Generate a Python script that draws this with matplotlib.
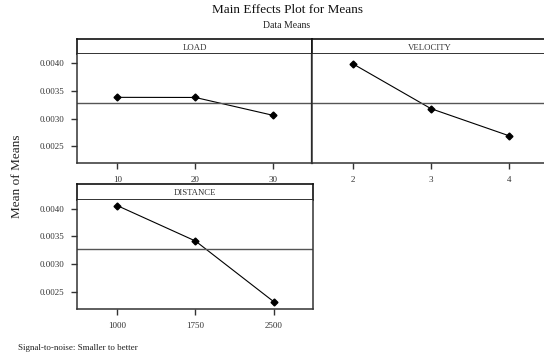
import numpy as np
from matplotlib import pyplot as plt

plt.rcParams['font.family'] = ['Liberation Serif', 'DejaVu Serif']

# factor levels and mean of means at each level
load_levels = ['10', '20', '30']
load_means = [0.003384, 0.003382, 0.003058]

velocity_levels = ['2', '3', '4']
velocity_means = [0.00399, 0.00318, 0.00269]

distance_levels = ['1000', '1750', '2500']
distance_means = [0.004055, 0.003417, 0.002325]

grand_mean = 0.00328
y_ticks = [0.0025, 0.0030, 0.0035, 0.0040]

W, H = 544, 360
fig = plt.figure(figsize=(W/100, H/100), dpi=100)


def box(x0, y0, x1, y1):
    # pixel box (top-left origin) -> figure fraction rect
    return [x0/W, (H-y1)/H, (x1-x0)/W, (y1-y0)/H]


def panel(x0, x1, ytop, ystrip, ybot, name, levels, means, show_y):
    st = fig.add_axes(box(x0, ytop, x1, ystrip))
    st.set_xticks([])
    st.set_yticks([])
    st.text(0.5, 0.45, name, ha='center', va='center', fontsize=6.3, color='#333333')
    for s in st.spines.values():
        s.set_linewidth(1.2)
        s.set_color('#111111')

    ax = fig.add_axes(box(x0, ystrip, x1, ybot))
    pos = np.arange(1, len(levels)+1)
    ax.plot(pos, means, color='black', lw=0.8, marker='D', ms=3.5)
    ax.axhline(grand_mean, color='#555555', lw=1.0)
    ax.set_xlim(0.48, 3.5)
    ax.set_ylim(0.002192, 0.004162)
    ax.set_xticks(pos)
    ax.set_xticklabels(levels, fontsize=6.5, color='#333333')
    ax.tick_params(axis='x', length=4, width=1, pad=5, color='#333333')
    if show_y:
        ax.set_yticks(y_ticks)
        ax.set_yticklabels(['%.4f' % v for v in y_ticks], fontsize=6.5, color='#333333')
        ax.tick_params(axis='y', length=4, width=1, pad=5, color='#333333')
    else:
        ax.set_yticks([])
    for s in ax.spines.values():
        s.set_linewidth(1.1)
        s.set_color('#333333')
    ax.spines['top'].set_visible(False)
    return ax


left = panel(76.7, 312.3, 39.3, 54.3, 163.3, 'LOAD', load_levels, load_means, True)
panel(312.3, 548, 39.3, 54.3, 163.3, 'VELOCITY', velocity_levels, velocity_means, False)
panel(76.7, 312.7, 184.3, 199.7, 309, 'DISTANCE', distance_levels, distance_means, True)

# heavier divider between the two top panels
left.spines['right'].set_linewidth(1.6)
left.spines['right'].set_color('#111111')

fig.text(287/W, 1-10/H, 'Main Effects Plot for Means', ha='center', va='center', fontsize=9.5, color='#111111')
fig.text(287/W, 1-25/H, 'Data Means', ha='center', va='center', fontsize=7, color='#222222')
fig.text(17/W, 1-176/H, 'Mean of Means', rotation=90, ha='center', va='center', fontsize=9.5, color='#222222')
fig.text(18/W, 1-348/H, 'Signal-to-noise: Smaller to better', ha='left', va='center', fontsize=6.5, color='#222222')

plt.savefig('out.png', dpi=100)
